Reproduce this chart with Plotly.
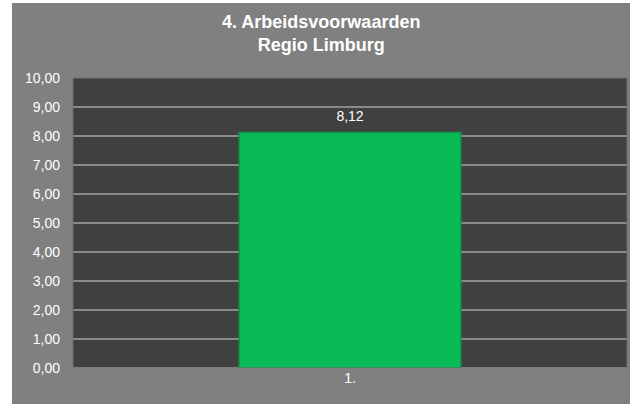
import plotly.graph_objects as go

categories = ["1."]
values = [8.12]
title_lines = ["4. Arbeidsvoorwaarden", "Regio Limburg"]

W, H = 630, 404
L, R, T, B = 73, 3, 78, 36
pw, ph = W - L - R, H - T - B

def px2x(px):
    return (px - L) / pw

def py2y(py):
    return (H - B - py) / ph

FONT = "Liberation Sans, Arial"

fig = go.Figure()
fig.add_trace(go.Bar(
    x=categories, y=values, width=0.4,
    marker=dict(color="#08BB56", line=dict(color="#0A9A48", width=1.5)),
    hoverinfo="skip",
))
fig.add_trace(go.Scatter(
    x=categories, y=values, mode="markers+text",
    marker=dict(size=11, opacity=0),
    text=values, texttemplate="%{y:.2f}", textposition="top center",
    textfont=dict(color="white", size=14, family=FONT),
    cliponaxis=False, hoverinfo="skip",
))

fig.update_layout(
    width=W, height=H,
    margin=dict(l=L, r=R, t=T, b=B, pad=0),
    paper_bgcolor="#808080",
    plot_bgcolor="#404040",
    separators=",.",
    showlegend=False,
    font=dict(family=FONT, color="white", size=14),
    xaxis=dict(showgrid=False, showline=False, ticks="", tickfont=dict(color="white", size=14)),
    yaxis=dict(range=[0, 10], dtick=1, tickformat=".2f", showgrid=True,
               gridcolor="#8A8A8A", gridwidth=1.5, zeroline=True, zerolinecolor="#8A8A8A",
               zerolinewidth=1.5, ticks="", tickfont=dict(color="white", size=14),
               showline=False, ticklabelstandoff=12),
    bargap=0.6,
    annotations=[
        dict(text="<b>" + "<br>".join(title_lines) + "</b>", xref="paper", yref="paper",
             x=px2x(321), y=py2y(10), xanchor="center", yanchor="top", showarrow=False,
             font=dict(size=18, color="white", family=FONT)),
    ],
    shapes=[
        dict(type="rect", xref="paper", yref="paper", x0=px2x(-5), x1=px2x(12), y0=py2y(H + 5), y1=py2y(-5),
             fillcolor="white", line=dict(width=0), layer="above"),
        dict(type="rect", xref="paper", yref="paper", x0=px2x(-5), x1=px2x(W + 5), y0=py2y(3), y1=py2y(-5),
             fillcolor="white", line=dict(width=0), layer="above"),
        dict(type="rect", xref="paper", yref="paper", x0=0, x1=1, y0=0, y1=1,
             fillcolor="rgba(0,0,0,0)", line=dict(color="#6E6E6E", width=1), layer="above"),
    ],
)

fig.write_html("out.html", config={"displayModeBar": False},
               post_script="document.body.style.margin='0';document.body.style.padding='0';")
